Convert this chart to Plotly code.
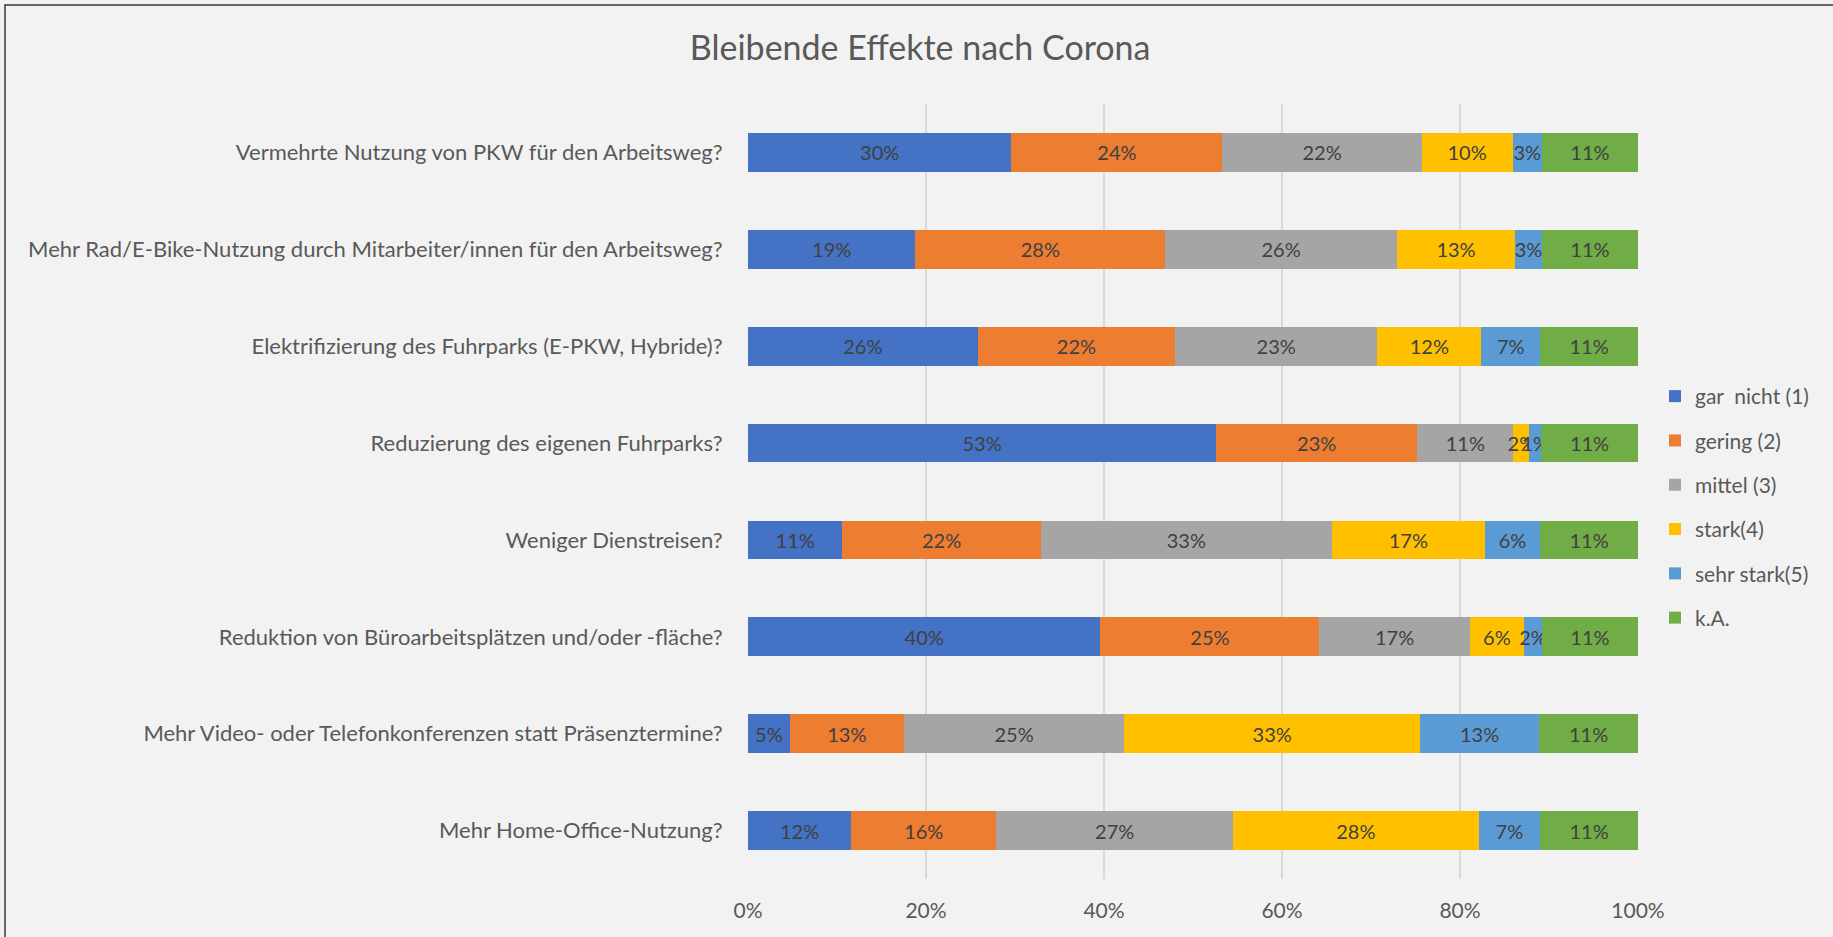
import plotly.graph_objects as go

categories = [
    "Vermehrte Nutzung von PKW für den Arbeitsweg?",
    "Mehr Rad/E-Bike-Nutzung durch Mitarbeiter/innen für den Arbeitsweg?",
    "Elektrifizierung des Fuhrparks (E-PKW, Hybride)?",
    "Reduzierung des eigenen Fuhrparks?",
    "Weniger Dienstreisen?",
    "Reduktion von Büroarbeitsplätzen und/oder -fläche?",
    "Mehr Video- oder Telefonkonferenzen statt Präsenztermine?",
    "Mehr Home-Office-Nutzung?",
]

series_names = ["gar  nicht (1)", "gering (2)", "mittel (3)", "stark(4)", "sehr stark(5)", "k.A."]

gar_nicht = [29.6, 18.8, 25.8, 52.6, 10.6, 39.6, 4.7, 11.6]
gering = [23.7, 28.1, 22.2, 22.6, 22.3, 24.6, 12.8, 16.3]
mittel = [22.4, 26.0, 22.7, 10.8, 32.7, 16.9, 24.8, 26.6]
stark = [10.2, 13.3, 11.7, 1.8, 17.2, 6.1, 33.2, 27.6]
sehr_stark = [3.3, 3.0, 6.6, 1.3, 6.2, 2.0, 13.4, 6.9]
k_a = [10.8, 10.8, 11.0, 10.9, 11.0, 10.8, 11.1, 11.0]

x_ticks = [0, 20, 40, 60, 80, 100]

colors = ["#4472C4", "#ED7D31", "#A5A5A5", "#FFC000", "#5B9BD5", "#70AD47"]

FONT = "Lato"
W, H = 1833, 937
L, R, T, B = 748, 195, 104, 58

fig = go.Figure()
for i, (name, vals) in enumerate(zip(series_names, [gar_nicht, gering, mittel, stark, sehr_stark, k_a])):
    fig.add_trace(go.Bar(
        y=categories, x=vals, name=name, orientation="h",
        marker=dict(color=colors[i], line=dict(width=0)),
        texttemplate="%{x:.0f}%", textposition="inside", insidetextanchor="middle",
        textangle=0, insidetextfont=dict(color="#404040", size=20, family=FONT),
        legendgroup=str(i), hoverinfo="skip",
    ))

pw = W - L - R
ph = H - T - B

def px_x(p):
    return (p - L) / pw

def px_y(p):
    return 1 - (p - T) / ph

fig.update_layout(
    barmode="stack",
    width=W, height=H,
    margin=dict(l=L, r=R, t=T, b=B, pad=0),
    paper_bgcolor="#F2F2F2", plot_bgcolor="#F2F2F2",
    bargap=0.6,
    font=dict(family=FONT, color="#595959", size=22),
    title=dict(text="Bleibende Effekte nach Corona", x=0.502, xanchor="center", y=1 - 48 / H, yanchor="middle",
               font=dict(size=34, color="#595959", family=FONT)),
    uniformtext=dict(minsize=20, mode="show"),
    legend=dict(x=px_x(1655), xanchor="left", y=px_y(507), yanchor="middle",
                font=dict(size=21, color="#595959", family=FONT), tracegroupgap=14,
                bgcolor="rgba(0,0,0,0)", itemwidth=30),
    xaxis=dict(range=[0, 100], tickvals=x_ticks, ticktext=[f"{v}%" for v in x_ticks],
               showgrid=True, gridcolor="#D9D9D9", gridwidth=1.5, zeroline=False, showline=False,
               ticks="outside", ticklen=13, tickcolor="rgba(0,0,0,0)",
               tickfont=dict(size=21, color="#595959", family=FONT), fixedrange=True),
    yaxis=dict(autorange="reversed", showgrid=False, zeroline=False, showline=False,
               ticks="outside", ticklen=20, tickcolor="rgba(0,0,0,0)",
               tickfont=dict(size=22, color="#595959", family=FONT), fixedrange=True),
    shapes=[dict(type="rect", xref="paper", yref="paper",
                 x0=px_x(5), x1=px_x(1845), y0=px_y(950), y1=px_y(5),
                 line=dict(color="#3A3A3A", width=1.5), fillcolor="rgba(0,0,0,0)", layer="above")],
)

fig.write_html("out.html", config={"displayModeBar": False},
               post_script="document.body.style.margin='0';document.body.style.overflow='hidden';")
